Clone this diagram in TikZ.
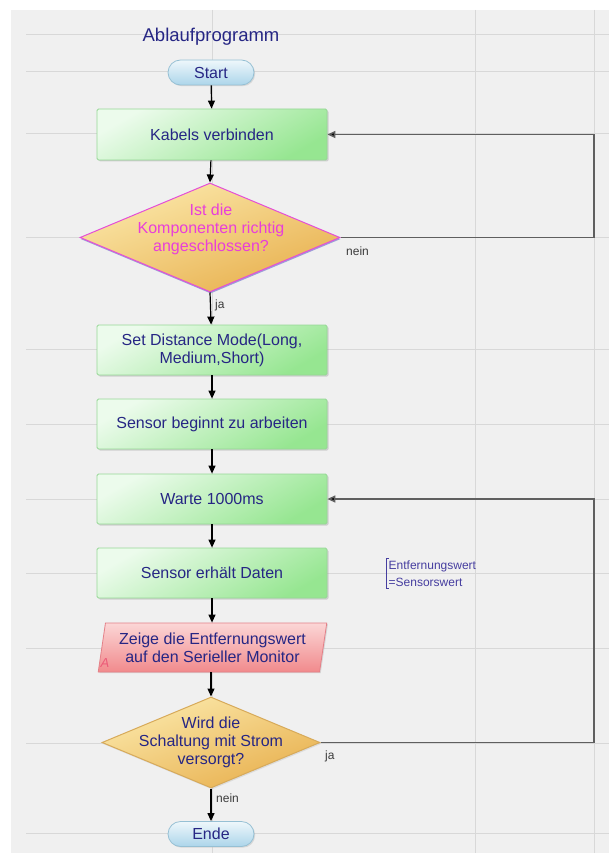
\documentclass[tikz,border=0pt]{standalone}
\usepackage{fontspec}
\setmainfont{Liberation Sans}
\usetikzlibrary{shapes.geometric,arrows.meta,shadows}

\definecolor{canvasbg}{RGB}{240,240,240}
\definecolor{gridc}{RGB}{216,216,216}
\definecolor{navy}{RGB}{38,38,132}
\definecolor{labelc}{RGB}{60,60,60}
\definecolor{loopc}{RGB}{95,95,95}
\definecolor{greentop}{RGB}{236,251,236}
\definecolor{greenbot}{RGB}{150,230,145}
\definecolor{greenedge}{RGB}{150,215,150}
\definecolor{ambertop}{RGB}{251,232,170}
\definecolor{amberbot}{RGB}{232,176,78}
\definecolor{amberedge}{RGB}{215,170,90}
\definecolor{pinkline}{RGB}{228,78,215}
\definecolor{pinktext}{RGB}{232,62,218}
\definecolor{bluetint}{RGB}{150,150,215}
\definecolor{rosetop}{RGB}{251,214,214}
\definecolor{rosebot}{RGB}{241,138,140}
\definecolor{roseedge}{RGB}{228,128,136}
\definecolor{markred}{RGB}{236,90,120}
\definecolor{pilltop}{RGB}{238,247,251}
\definecolor{pillbot}{RGB}{172,213,234}
\definecolor{pilledge}{RGB}{150,192,212}
\definecolor{notec}{RGB}{70,62,160}

\tikzset{
  gridline/.style={draw=gridc, line width=1pt},
  txt/.style={font=\fontsize{16}{18}\selectfont, text=navy, align=center},
  stepbox/.style={txt, rectangle, rounded corners=1.5pt, minimum width=230pt,
    minimum height=50pt, inner sep=0pt, draw=greenedge, line width=0.8pt,
    top color=greentop, bottom color=greenbot, shading angle=30,
    drop shadow={fill=black!35, opacity=0.45, shadow xshift=1.5pt, shadow yshift=-1.5pt}},
  pill/.style={txt, rectangle, rounded corners=12.5pt, minimum width=86pt,
    minimum height=25pt, inner sep=0pt, draw=pilledge, line width=0.8pt,
    top color=pilltop, bottom color=pillbot,
    drop shadow={fill=black!30, opacity=0.4, shadow xshift=1.2pt, shadow yshift=-1.2pt}},
  decision/.style={diamond, inner sep=0pt, line width=1pt,
    top color=ambertop, bottom color=amberbot, shading angle=20},
  iobox/.style={txt, trapezium, trapezium left angle=78, trapezium right angle=102,
    trapezium stretches=true, minimum width=229pt, minimum height=49pt, inner sep=0pt,
    draw=roseedge, line width=0.8pt, top color=rosetop, bottom color=rosebot,
    drop shadow={fill=black!30, opacity=0.4, shadow xshift=1.2pt, shadow yshift=-1.2pt}},
  flow/.style={draw=black, line width=1.2pt, -{Triangle[length=8pt,width=7pt]}},
  loopline/.style={draw=loopc, line width=1.5pt, -{Triangle[length=8pt,width=7pt,fill=black]}},
  lbl/.style={font=\fontsize{12}{14}\selectfont, text=labelc, inner sep=0pt, anchor=west},
}

\begin{document}
\begin{tikzpicture}[x=1pt,y=-1pt]
  \useasboundingbox (0,0) rectangle (609,853);
  \fill[white] (0,0) rectangle (609,853);
  \fill[canvasbg] (11,10) rectangle (609,853);

  % page grid
  \foreach \gy in {35,72,134,237,349,424,499,573,648,743,833}
    \draw[gridline] (26,\gy) -- (609,\gy);
  \foreach \gx in {212,475,594}
    \draw[gridline] (\gx,10) -- (\gx,853);

  % title and terminals
  \node[font=\fontsize{18.5}{20}\selectfont, text=navy] (title) at (211,37) {Ablaufprogramm};
  \node[pill] (start) at (211,72.5) {Start};

  % process steps
  \node[stepbox, minimum height=51pt] (kabels) at (212,134.5) {Kabels verbinden};

  \node[decision, draw=pinkline, minimum width=260pt, minimum height=109pt,
    drop shadow={fill=bluetint, opacity=0.9, shadow xshift=0.6pt, shadow yshift=-1.6pt}]
    (check) at (210,237.5) {};
  \node[txt, text=pinktext] (checktext) at (211,229)
    {Ist die\\Komponenten richtig\\angeschlossen?};

  \node[stepbox] (mode) at (212,350) {Set Distance Mode(Long,\\Medium,Short)};
  \node[stepbox] (begin) at (212,424) {Sensor beginnt zu arbeiten};
  \node[stepbox] (wait) at (212,499) {Warte 1000ms};
  \node[stepbox] (data) at (212,573) {Sensor erhält Daten};

  \node[font=\fontsize{12}{17}\selectfont, text=notec, align=left, anchor=west,
    inner xsep=2.5pt, inner ysep=1.5pt] (note) at (386,573.5)
    {Entfernungswert\\=Sensorswert};
  \draw[notec, line width=1pt]
    ([xshift=3pt]note.north west) -- (note.north west)
    -- (note.south west) -- ([xshift=3pt]note.south west);

  \node[iobox] (show) at (212.5,647.5) {Zeige die Entfernungswert\\auf den Serieller Monitor};
  \node[font=\fontsize{13}{14}\selectfont\itshape, text=markred, inner sep=0pt] (showmark)
    at (105,663) {A};

  \node[decision, draw=amberedge, minimum width=218pt, minimum height=91pt,
    drop shadow={fill=black!25, opacity=0.4, shadow xshift=1pt, shadow yshift=-1.5pt}]
    (power) at (211,742.5) {};
  \node[txt] (powertext) at (211,742) {Wird die\\Schaltung mit Strom\\versorgt?};

  \node[pill] (stop) at (211,834) {Ende};

  % main flow
  \draw[flow] (start) -- (kabels);
  \draw[flow] (kabels) -- (check.north);
  \draw[flow] (check.south) -- (mode);
  \draw[flow] (mode) -- (begin);
  \draw[flow] (begin) -- (wait);
  \draw[flow] (wait) -- (data);
  \draw[flow] (data.south) -- (data.south |- show.north);
  \draw[flow] (show.south -| power.north) -- (power.north);
  \draw[flow] (power.south) -- (stop.north);

  % return paths
  \coordinate (rail) at (594,0);
  \draw[loopline] (check.east) -- (check.east -| rail) |- (kabels.east);
  \draw[loopline] (power.east) -- (power.east -| rail) |- (wait.east);

  % branch labels
  \node[lbl] (noA) at (346,251) {nein};
  \node[lbl] (yesA) at (215,305) {ja};
  \node[lbl] (yesB) at (325,756) {ja};
  \node[lbl] (noB) at (216,798) {nein};
\end{tikzpicture}
\end{document}
